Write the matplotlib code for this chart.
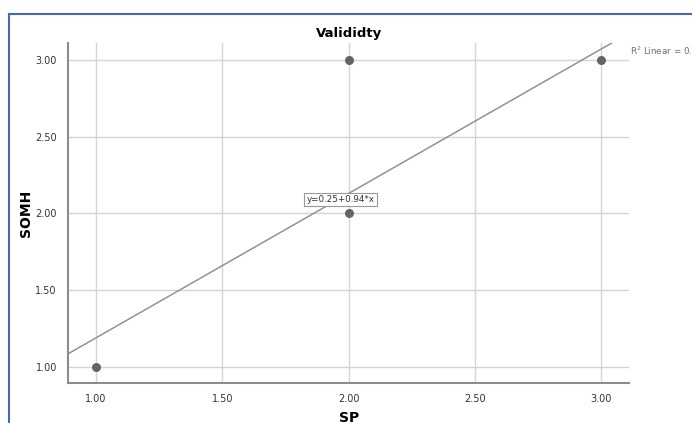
import matplotlib
matplotlib.use("Agg")
import matplotlib.pyplot as plt
from matplotlib.lines import Line2D
import numpy as np

# Data
sp_vals = [1.0, 2.0, 2.0, 3.0]
somh_vals = [1.0, 2.0, 3.0, 3.0]
fit_intercept = 0.25
fit_slope = 0.94
r2_text = "R$^2$ Linear = 0.79"
x_ticks = [1.0, 1.5, 2.0, 2.5, 3.0]
y_ticks = [1.0, 1.5, 2.0, 2.5, 3.0]

GRID = "#d4d4d4"
SPINE = "#8c8c8c"
LINE = "#8a8a8a"
DOT = "#646464"
BORDER = "#4a6ab0"

fig = plt.figure(figsize=(6.92, 4.23), dpi=100, facecolor="white")
ax = fig.add_axes([0.0983, 0.0946, 0.811, 0.804])

xlim = (0.889, 3.111)
ylim = (0.896, 3.11)
ax.set_xlim(*xlim)
ax.set_ylim(*ylim)

ax.set_xticks(x_ticks)
ax.set_yticks(y_ticks)
ax.set_xticklabels([f"{v:.2f}" for v in x_ticks])
ax.set_yticklabels([f"{v:.2f}" for v in y_ticks])
ax.tick_params(length=0, labelsize=7, colors="#333333", pad=8)
ax.grid(True, color=GRID, lw=1.0)
ax.set_axisbelow(True)

for s in ("top", "right"):
    ax.spines[s].set_visible(False)
for s in ("left", "bottom"):
    ax.spines[s].set_color(SPINE)
    ax.spines[s].set_linewidth(1.5)

# fit line across the full x range, clipped at the box
xs = np.array(xlim)
ax.plot(xs, fit_intercept + fit_slope * xs, color=LINE, lw=1.0, zorder=2)

ax.scatter(sp_vals, somh_vals, s=30, color=DOT, zorder=3)

ax.text(1.968, 2.09, f"y={fit_intercept:.2f}+{fit_slope:.2f}*x", fontsize=6.3,
        color="#333333", ha="center", va="center", zorder=4,
        bbox=dict(boxstyle="square,pad=0.25", fc="white", ec="#999999", lw=0.8))

ax.text(3.115, 3.06, r2_text, fontsize=6.3, color="#707070",
        ha="left", va="center", clip_on=False)

ax.set_title("Valididty", fontsize=9.5, fontweight="bold", pad=4)
ax.set_xlabel("SP", fontsize=10, fontweight="bold", labelpad=5)
ax.set_ylabel("SOMH", fontsize=10, fontweight="bold", labelpad=2)

# blue frame (top and left edges only visible)
fig.add_artist(Line2D([0.013, 1.0], [0.968, 0.968], transform=fig.transFigure,
                      color=BORDER, lw=1.5))
fig.add_artist(Line2D([0.013, 0.013], [0.0, 0.968], transform=fig.transFigure,
                      color=BORDER, lw=1.5))

fig.savefig("out.png", dpi=100, facecolor="white")
